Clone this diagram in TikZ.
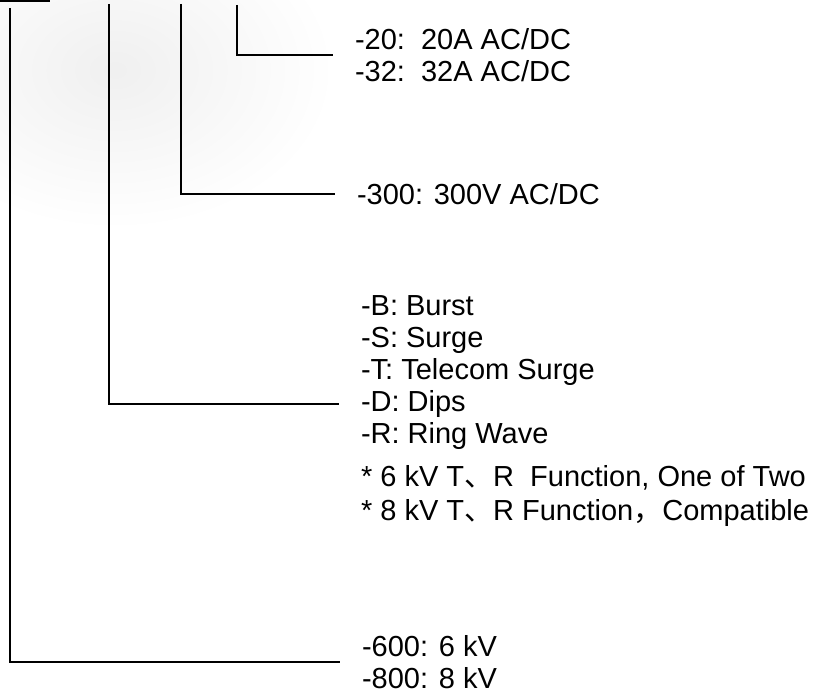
\documentclass[tikz,border=0pt]{standalone}
\usepackage{fontspec}
\setmainfont{Liberation Sans}
\newfontfamily\cjk{Noto Sans CJK SC}

\tikzstyle{option} = [anchor=west, align=left, inner xsep=22pt, inner ysep=0pt, outer sep=0pt, font=\fontsize{29}{32}\selectfont]
\tikzstyle{item} = [option, anchor=base west]
\tikzstyle{branch} = [line width=2pt]

\begin{document}
\begin{tikzpicture}[x=1pt,y=-1pt]
\useasboundingbox (0,0) rectangle (816,695);
% soft grey glow, top left
\shade[inner color=black!6, outer color=white] (115,70) ellipse [x radius=220, y radius=160];
\draw[branch] (0,1) -- (50,1);

\coordinate (kvtop) at (10,8);
\coordinate (testtop) at (109,4);
\coordinate (volttop) at (181,4);
\coordinate (amptop) at (237,5);

\node[option] (amp) at (333,55) {-20:\ \ 20A AC/DC\\-32:\ \ 32A AC/DC};
\node[option] (volt) at (335,194) {-300: 300V AC/DC};
\node[item] (burst) at (339,315) {-B: Burst};
\node[item] (surge) at (339,347) {-S: Surge};
\node[item] (telecom) at (339,379) {-T: Telecom Surge};
\node[item] (dips) at (339,411) {-D: Dips};
\node[item] (ring) at (339,443) {-R: Ring Wave};
\node[item] (sixkv) at (339,486) {* 6 kV T{\cjk 、}R\ \ Function, One of Two};
\node[item] (eightkv) at (339,520) {* 8 kV T{\cjk 、}R Function{\cjk ，}Compatible};
\node[option] (kv) at (340,662) {-600: 6 kV\\-800: 8 kV};

\draw[branch] (amptop) |- (amp.west);
\draw[branch] (volttop) |- (volt.west);
\draw[branch] (testtop) |- (dips.west);
\draw[branch] (kvtop) |- (kv.west);
\end{tikzpicture}
\end{document}
